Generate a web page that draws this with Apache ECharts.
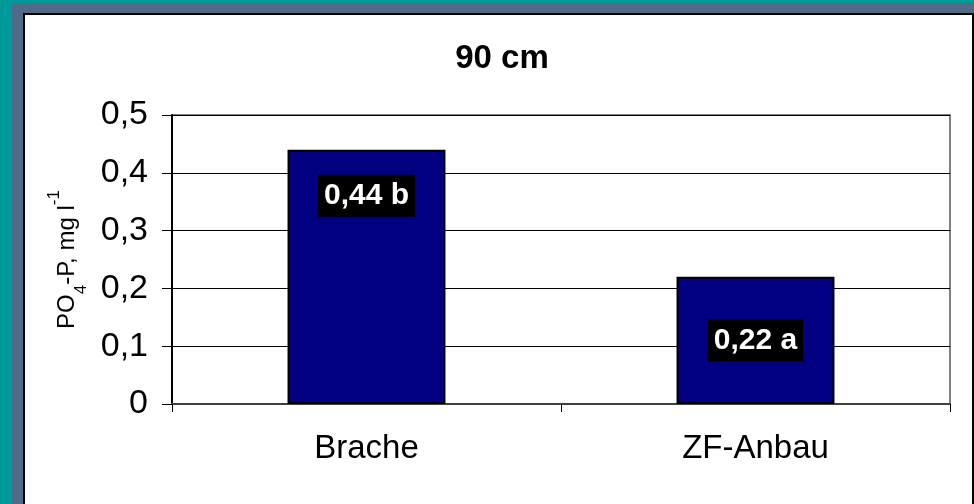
<!DOCTYPE html>
<html>
<head>
<meta charset="utf-8">
<script src="https://cdn.jsdelivr.net/npm/echarts@6/dist/echarts.min.js"></script>
<style>
html, body { margin: 0; padding: 0; }
#divChart { width: 974px; height: 504px; }
</style>
</head>
<body>
<div id="divChart"></div>
<script>
var categories = ['Brache', 'ZF-Anbau'];
var values = [0.44, 0.22];
var labels = ['0,44 b', '0,22 a'];
var yTicks = [0, 0.1, 0.2, 0.3, 0.4, 0.5];

var myChart = echarts.init(document.getElementById('divChart'));

function fmt(v) {
    return String(v).replace('.', ',');
}

var barData = [];
for (var i = 0; i < values.length; i++) {
    barData.push({
        value: values[i],
        label: {
            position: i == 0 ? ['50%', 46] : ['50%', '50%'],
            formatter: labels[i]
        }
    });
}

var option = {
    backgroundColor: '#009999',
    animation: false,
    graphic: [
        { type: 'rect', z: -10, shape: { x: 12, y: 3, width: 962, height: 501 }, style: { fill: '#526a86' } },
        { type: 'rect', z: -9, shape: { x: 24, y: 14, width: 949, height: 495 }, style: { fill: '#ffffff', stroke: '#000000', lineWidth: 2 } }
    ],
    title: {
        text: '90 cm',
        left: 497,
        textAlign: 'center',
        top: 37,
        textStyle: { fontFamily: 'Liberation Sans, Arial', fontSize: 33, fontWeight: 'bold', color: '#000' }
    },
    grid: {
        left: 172, right: 24, top: 115, bottom: 100,
        show: true, borderColor: '#808080', borderWidth: 2, backgroundColor: 'transparent'
    },
    xAxis: {
        type: 'category',
        data: categories,
        axisLine: { lineStyle: { color: '#404040', width: 2 } },
        axisTick: { show: true, length: 8, lineStyle: { color: '#000' } },
        axisLabel: { margin: 28, fontFamily: 'Liberation Sans, Arial', fontSize: 33, color: '#000' }
    },
    yAxis: {
        type: 'value',
        min: 0, max: 0.5, interval: 0.1,
        name: '{a|PO}{s|4}{a|-P, mg l}{p|-1}',
        nameLocation: 'middle',
        nameGap: 92,
        nameTextStyle: {
            rich: {
                a: { fontFamily: 'Liberation Sans, Arial', fontSize: 24, color: '#000' },
                s: { fontFamily: 'Liberation Sans, Arial', fontSize: 17, color: '#000', verticalAlign: 'bottom', padding: [0, 0, -10, 0] },
                p: { fontFamily: 'Liberation Sans, Arial', fontSize: 17, color: '#000', verticalAlign: 'top', padding: [-10, 0, 0, 0] }
            }
        },
        axisLine: { show: true, lineStyle: { color: '#000', width: 2 } },
        axisTick: { show: true, length: 10, lineStyle: { color: '#000' } },
        splitLine: { show: true, lineStyle: { color: '#000', width: 1 } },
        axisLabel: {
            margin: 24,
            fontFamily: 'Liberation Sans, Arial', fontSize: 34, color: '#000',
            formatter: function (v) { return yTicks.indexOf(Math.round(v * 10) / 10) >= 0 ? fmt(Math.round(v * 10) / 10) : ''; }
        }
    },
    series: [{
        type: 'bar',
        data: barData,
        barWidth: '40.6%',
        itemStyle: { color: '#000080', borderColor: '#000', borderWidth: 2 },
        label: {
            show: true,
            align: 'center',
            verticalAlign: 'middle',
            backgroundColor: '#000',
            color: '#fff',
            padding: [7, 6, 5, 6],
            fontFamily: 'Liberation Sans, Arial',
            fontSize: 30,
            fontWeight: 'bold'
        }
    }]
};
myChart.setOption(option);
</script>
</body>
</html>
